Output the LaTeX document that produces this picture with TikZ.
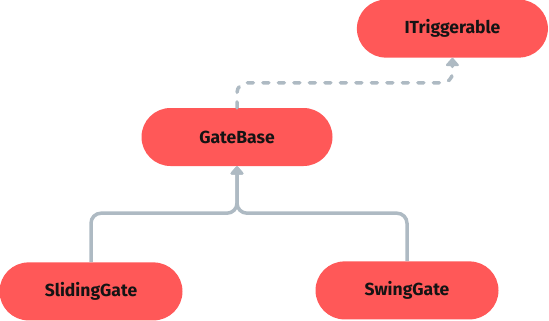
\documentclass[tikz,border=0pt]{standalone}
\usepackage{fontspec}
\setmainfont{Fira Sans}
\usepackage{xcolor}
\definecolor{clsred}{RGB}{255,88,88}
\definecolor{edgegray}{RGB}{174,186,195}
\definecolor{clsink}{RGB}{20,20,20}
\usepackage{tikz}
\usetikzlibrary{positioning,arrows.meta}

\begin{document}
\begin{tikzpicture}[
  x=1pt, y=1pt,
  font=\fontsize{17.5}{20}\selectfont\bfseries,
  cls/.style={fill=clsred, draw=none, text=clsink, rounded corners=29pt, minimum height=58pt, minimum width=191pt, inner sep=0pt},
  leaf/.style={cls, minimum width=183pt},
  inh/.style={-{Triangle[round, length=9pt, width=15pt]}, edgegray, line width=3.5pt, rounded corners=10pt},
  dep/.style={inh, dash pattern=on 6pt off 9.5pt, line cap=round},
  node distance=0.5cm]
  \useasboundingbox (0,0) rectangle (549,-321);
  \node[cls] (base) at (237,-137) {GateBase};
  \node[cls, above right=50pt and 24pt of base] (trig) {ITriggerable};
  \node[leaf, below=96pt of base, xshift=-146pt] (slide) {SlidingGate};
  \node[leaf, below=95pt of base, xshift=170pt] (swing) {SwingGate};
  \draw[dep] (base.north) -- ++(0,25) -| (trig.south);
  \draw[inh] (slide.north) -- ++(0,49) -| (base.south);
  \draw[inh] (swing.north) -- ++(0,48) -| (base.south);
\end{tikzpicture}
\end{document}
